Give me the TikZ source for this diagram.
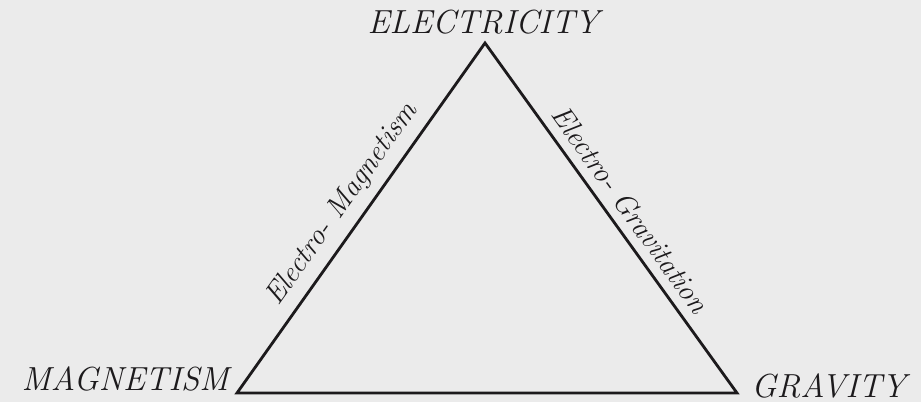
\documentclass[tikz,border=0pt]{standalone}
\usepackage{fontspec}
\usetikzlibrary{positioning}
\definecolor{paper}{HTML}{EBEBEB}
\definecolor{ink}{HTML}{1C1A1C}
\tikzset{
  corner/.style={font=\fontsize{19}{21}\selectfont\itshape\addfontfeatures{LetterSpace=4}, text=ink, inner sep=0pt},
  sidelabel/.style={font=\fontsize{16.5}{19}\selectfont\itshape, text=ink, sloped, inner sep=2pt},
  edge/.style={draw=ink, line width=1.6pt, line join=miter},
}
\begin{document}
\begin{tikzpicture}[x=0.02cm, y=-0.02cm]
    % Nền
    \fill[paper] (0,0) rectangle (921,402);

    % Các đỉnh tam giác
    \coordinate (elec) at (485,43);
    \coordinate (magn) at (237,393);
    \coordinate (grav) at (737,393);

    % Tam giác và nhãn các cạnh
    \draw[edge] (magn) -- node[sidelabel, pos=0.50, above=3pt] {Electro- Magnetism} (elec)
        -- node[sidelabel, pos=0.51, above=3pt] {Electro- Gravitation} (grav) -- cycle;

    % Nhãn các đỉnh
    \node[corner, above=5.5pt of elec, anchor=base, xshift=-1pt] (elecl) {ELECTRICITY};
    \node[corner, anchor=base east, xshift=-4.5pt, yshift=1.7pt] (magnl) at (magn) {MAGNETISM};
    \node[corner, anchor=base west, xshift=8pt, yshift=-2.3pt] (gravl) at (grav) {GRAVITY};
\end{tikzpicture}
\end{document}
